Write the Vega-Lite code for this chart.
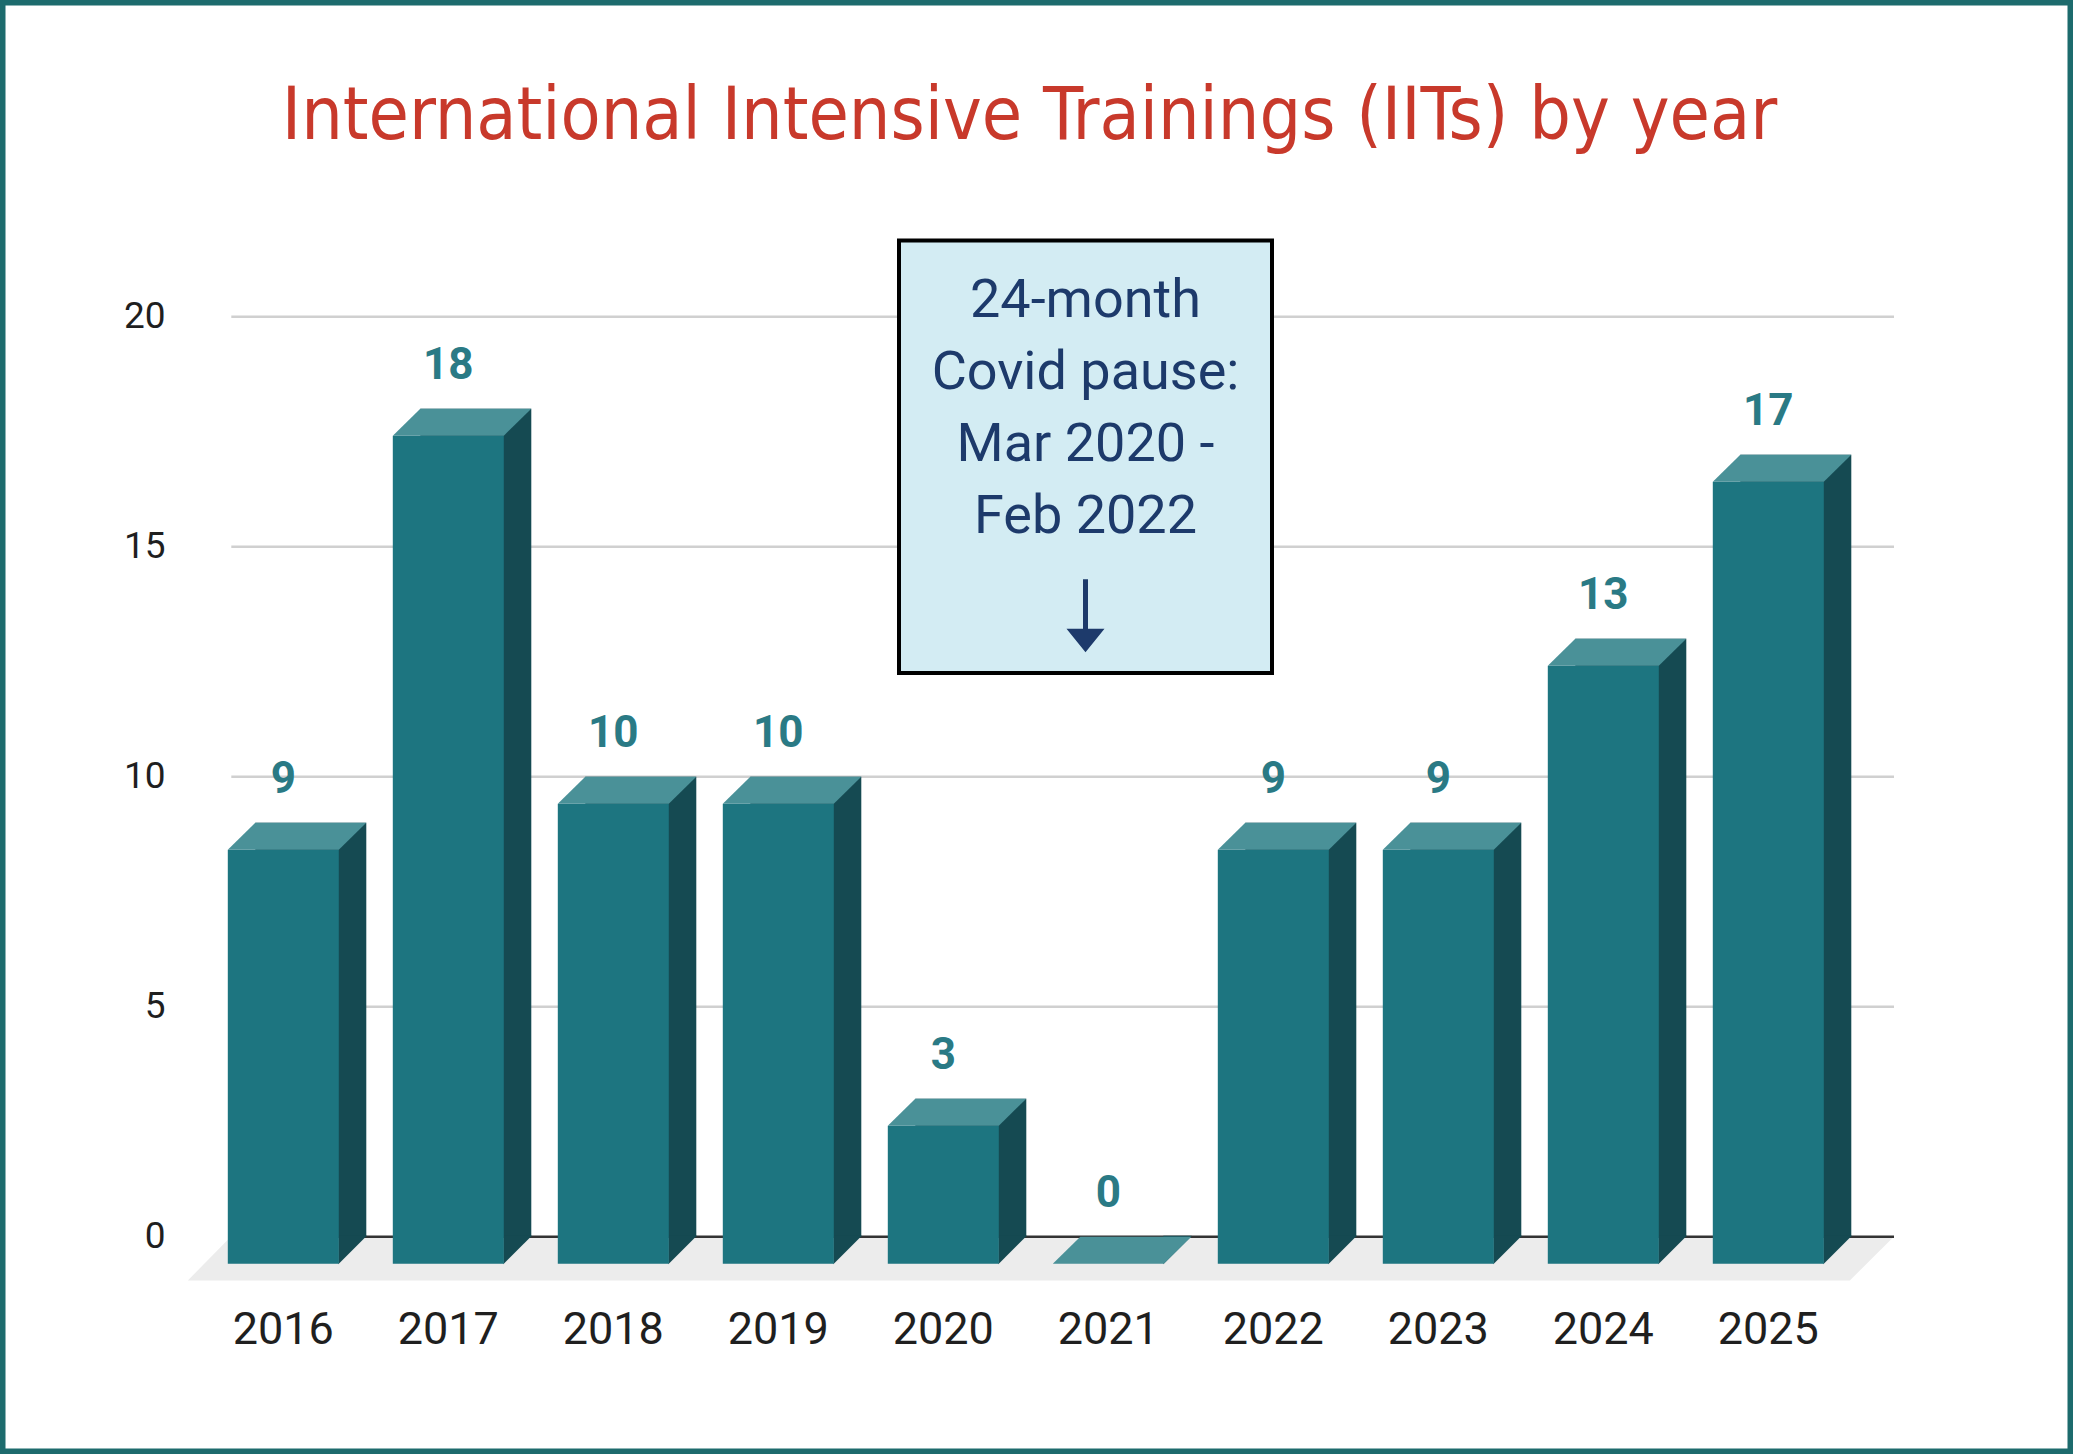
{
  "$schema": "https://vega.github.io/schema/vega-lite/v6.json",
  "width": 2073,
  "height": 1454,
  "autosize": "none",
  "padding": 0,
  "background": "#ffffff",
  "config": {
    "view": {"stroke": "#1d6b6d", "strokeWidth": 11},
    "axis": {"labelFont": "Roboto", "labelColor": "#1f1f1f", "domain": false, "ticks": false, "tickSize": 0, "grid": false, "labelPadding": 0}
  },
  "title": {
    "text": "International Intensive Trainings (IITs) by year",
    "font": "'DejaVu Sans Condensed', 'Roboto Condensed', 'Liberation Sans Narrow', sans-serif",
    "fontSize": 73,
    "fontWeight": "normal",
    "color": "#c8392b",
    "anchor": "middle",
    "frame": "group",
    "orient": "top",
    "baseline": "alphabetic",
    "offset": -212,
    "dx": -7
  },
  "data": {
    "values": [
      {"year": "2016", "count": 9},
      {"year": "2017", "count": 18},
      {"year": "2018", "count": 10},
      {"year": "2019", "count": 10},
      {"year": "2020", "count": 3},
      {"year": "2021", "count": 0},
      {"year": "2022", "count": 9},
      {"year": "2023", "count": 9},
      {"year": "2024", "count": 13},
      {"year": "2025", "count": 17}
    ]
  },
  "layer": [
    {
      "data": {"values": [{"part": "floor"}]},
      "mark": {"type": "point", "shape": "M-9.205,0.438L7.415,0.438L7.855,0L-8.775,0Z", "size": 40000, "filled": true, "opacity": 1, "color": "#ececec", "strokeWidth": 0},
      "encoding": {
        "x": {"datum": "2021", "type": "nominal", "title": null,
              "scale": {"domain": ["2016","2017","2018","2019","2020","2021","2022","2023","2024","2025"], "range": [227.8, 1823.8], "paddingInner": 0.3273, "paddingOuter": 0},
              "axis": {"title": null, "offset": -125, "labelFontSize": 45, "labelBaseline": "middle", "labelAngle": 0}},
        "y": {"datum": 0, "type": "quantitative", "title": null,
              "scale": {"domain": [0, 20], "range": [1236.7, 316.7], "nice": false, "zero": false},
              "axis": {"title": null, "values": [0, 5, 10, 15, 20], "format": "d", "offset": -165, "labelFontSize": 37, "labelAlign": "right"}}
      }
    },
    {
      "data": {"values": [{"v": 0}, {"v": 5}, {"v": 10}, {"v": 15}, {"v": 20}]},
      "mark": {"type": "rule", "strokeWidth": 2.5, "xOffset": 3.5, "x2Offset": 70.2},
      "encoding": {
        "x": {"datum": "2016", "type": "nominal", "bandPosition": 0, "title": null},
        "x2": {"datum": "2025", "bandPosition": 1},
        "y": {"field": "v", "type": "quantitative", "title": null},
        "color": {"condition": {"test": "datum.v === 0", "value": "#333333"}, "value": "#d0d0d0"}
      }
    },
    {
      "data": {"values": [{"part": "note box"}]},
      "mark": {"type": "point", "shape": "M-1.865,-2.162L1.865,-2.162L1.865,2.162L-1.865,2.162Z", "size": 40000, "filled": true, "opacity": 1, "fill": "#d3ecf3", "stroke": "#000000", "strokeWidth": 4, "xOffset": -22.8},
      "encoding": {
        "x": {"datum": "2021", "type": "nominal", "title": null},
        "y": {"datum": 16.954, "type": "quantitative", "title": null}
      }
    },
    {
      "data": {"values": [{"part": "note text"}]},
      "mark": {"type": "text", "text": ["24-month", "Covid pause:", "Mar 2020 -", "Feb 2022"], "font": "Roboto", "fontSize": 54, "lineHeight": 71.8, "color": "#1d3a6b", "align": "center", "baseline": "middle", "xOffset": -22.8},
      "encoding": {
        "x": {"datum": "2021", "type": "nominal", "title": null},
        "y": {"datum": 20.333, "type": "quantitative", "title": null}
      }
    },
    {
      "data": {"values": [{"part": "note arrow"}]},
      "mark": {"type": "point", "shape": "M-0.025,-0.365L0.025,-0.365L0.025,0.13L0.19,0.13L0,0.365L-0.19,0.13L-0.025,0.13Z", "size": 40000, "filled": true, "opacity": 1, "color": "#1d3a6b", "strokeWidth": 0, "xOffset": -22.8},
      "encoding": {
        "x": {"datum": "2021", "type": "nominal", "title": null},
        "y": {"datum": 13.5, "type": "quantitative", "title": null}
      }
    },
    {
      "mark": {"type": "bar", "color": "#154a52", "xOffset": 27.5},
      "encoding": {
        "x": {"field": "year", "type": "nominal", "title": null},
        "y": {"field": "count", "type": "quantitative", "title": null}
      }
    },
    {
      "mark": {"type": "point", "shape": "M0.55,-0.01L0.835,-0.01L0.55,0.275Z", "size": 40000, "filled": true, "opacity": 1, "color": "#154a52", "strokeWidth": 0},
      "encoding": {
        "x": {"field": "year", "type": "nominal", "title": null},
        "y": {"datum": 0, "type": "quantitative", "title": null}
      }
    },
    {
      "mark": {"type": "bar", "color": "#1d7580", "yOffset": 27, "y2Offset": 27},
      "encoding": {
        "x": {"field": "year", "type": "nominal", "title": null},
        "y": {"field": "count", "type": "quantitative", "title": null}
      }
    },
    {
      "mark": {"type": "point", "shape": "M-0.555,0.27L0.555,0.27L0.83,0L-0.28,0Z", "size": 40000, "filled": true, "opacity": 1, "color": "#4a9198", "strokeWidth": 0},
      "encoding": {
        "x": {"field": "year", "type": "nominal", "title": null},
        "y": {"field": "count", "type": "quantitative", "title": null}
      }
    },
    {
      "mark": {"type": "text", "font": "Roboto", "fontSize": 44, "fontWeight": "bold", "color": "#2a7a85", "align": "center", "baseline": "middle", "dy": -43},
      "encoding": {
        "x": {"field": "year", "type": "nominal", "title": null},
        "y": {"field": "count", "type": "quantitative", "title": null},
        "text": {"field": "count", "type": "quantitative"}
      }
    }
  ]
}
